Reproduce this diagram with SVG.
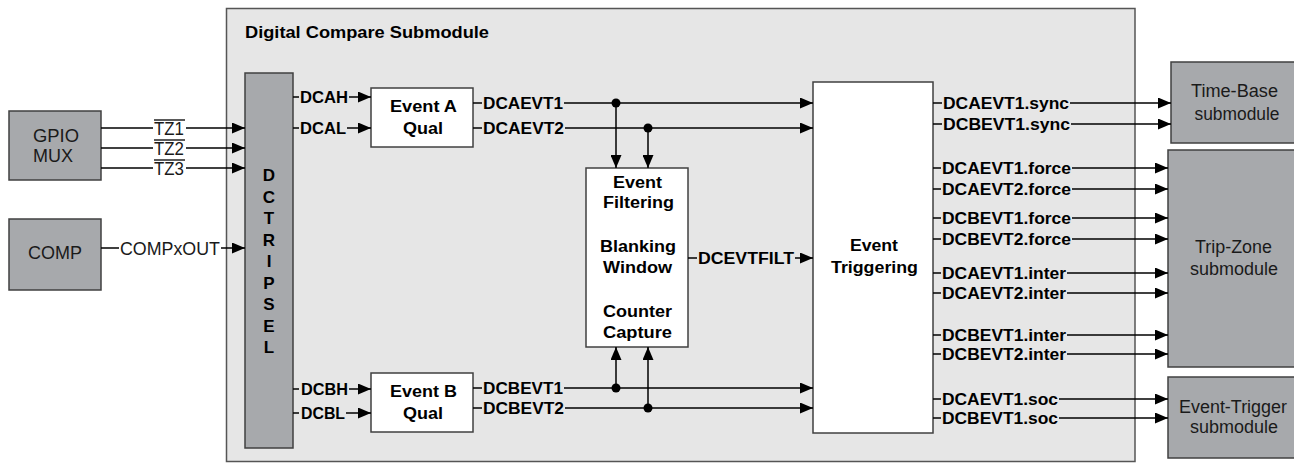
<svg xmlns="http://www.w3.org/2000/svg" width="1294" height="464" viewBox="0 0 1294 464">
<style>
.gbox{fill:#a7a9ac;stroke:#404040;stroke-width:1.5}
.wbox{fill:#ffffff;stroke:#404040;stroke-width:1.5}
.outer{fill:#e6e6e6;stroke:#555;stroke-width:1.5}
.ln{fill:none;stroke:#000;stroke-width:1.5}
.arr{marker-end:url(#ah)}
.b{font-family:"Liberation Sans",Arial,sans-serif;font-weight:bold;font-size:16px;fill:#000}
.q{font-size:17px}
.r{font-family:"Liberation Sans",Arial,sans-serif;font-size:17.5px;fill:#1a1a1a}
.c{text-anchor:middle}
.bgg{fill:#e6e6e6}
.bgw{fill:#ffffff}
.dot{fill:#000}
</style>
<defs>
<marker id="ah" markerUnits="userSpaceOnUse" markerWidth="13" markerHeight="11" refX="13" refY="5.5" orient="auto">
<path d="M0,0 L13,5.5 L0,11 z" fill="#000"/>
</marker>
</defs>

<g id="dc-submodule">
<rect class="outer" x="226.5" y="8.5" width="908.5" height="453"/>
<text class="b" x="245" y="38" textLength="244" lengthAdjust="spacingAndGlyphs">Digital Compare Submodule</text>
</g>

<g id="gpio-mux">
<rect class="gbox" x="9" y="111" width="92" height="69"/>
<text class="r c" x="56" y="142" textLength="46" lengthAdjust="spacingAndGlyphs">GPIO</text>
<text class="r c" x="53" y="162" textLength="40" lengthAdjust="spacingAndGlyphs">MUX</text>
</g>

<g id="comp">
<rect class="gbox" x="9" y="219" width="92" height="71"/>
<text class="r c" x="55" y="259" textLength="54" lengthAdjust="spacingAndGlyphs">COMP</text>
</g>

<g id="dctripsel">
<rect class="gbox" x="245" y="73" width="48" height="375"/>
<g class="b c" style="font-size:17px">
<text x="269" y="181">D</text>
<text x="269" y="202.5">C</text>
<text x="269" y="224">T</text>
<text x="269" y="245.5">R</text>
<text x="269" y="267">I</text>
<text x="269" y="288.5">P</text>
<text x="269" y="310">S</text>
<text x="269" y="331.5">E</text>
<text x="269" y="353">L</text>
</g>
</g>

<g id="event-a-qual">
<rect class="wbox" x="371" y="88" width="102" height="59"/>
<text class="b q c" x="423.5" y="112" textLength="67" lengthAdjust="spacingAndGlyphs">Event A</text>
<text class="b q c" x="423" y="133.5" textLength="40" lengthAdjust="spacingAndGlyphs">Qual</text>
</g>

<g id="event-b-qual">
<rect class="wbox" x="371" y="373" width="102" height="59"/>
<text class="b q c" x="423.5" y="397" textLength="67" lengthAdjust="spacingAndGlyphs">Event B</text>
<text class="b q c" x="423" y="419" textLength="40" lengthAdjust="spacingAndGlyphs">Qual</text>
</g>

<g id="event-filtering">
<rect class="wbox" x="586" y="168" width="102" height="179"/>
<text class="b c" x="637.5" y="188" textLength="49" lengthAdjust="spacingAndGlyphs">Event</text>
<text class="b c" x="638.5" y="208" textLength="71" lengthAdjust="spacingAndGlyphs">Filtering</text>
<text class="b c" x="638" y="252" textLength="76" lengthAdjust="spacingAndGlyphs">Blanking</text>
<text class="b c" x="637.5" y="273" textLength="69" lengthAdjust="spacingAndGlyphs">Window</text>
<text class="b c" x="637.5" y="317" textLength="69" lengthAdjust="spacingAndGlyphs">Counter</text>
<text class="b c" x="637.5" y="338" textLength="69" lengthAdjust="spacingAndGlyphs">Capture</text>
</g>

<g id="event-triggering">
<rect class="wbox" x="813" y="82" width="120" height="351"/>
<text class="b c" x="874" y="251" textLength="48" lengthAdjust="spacingAndGlyphs">Event</text>
<text class="b c" x="874.5" y="273" textLength="87" lengthAdjust="spacingAndGlyphs">Triggering</text>
</g>

<g id="time-base">
<rect class="gbox" x="1171" y="62" width="130" height="81"/>
<text class="r c" x="1234.5" y="97" textLength="87" lengthAdjust="spacingAndGlyphs">Time-Base</text>
<text class="r c" x="1237" y="120" textLength="85" lengthAdjust="spacingAndGlyphs">submodule</text>
</g>

<g id="trip-zone">
<rect class="gbox" x="1168" y="150" width="133" height="217"/>
<text class="r c" x="1233.5" y="253" textLength="77" lengthAdjust="spacingAndGlyphs">Trip-Zone</text>
<text class="r c" x="1234" y="275" textLength="88" lengthAdjust="spacingAndGlyphs">submodule</text>
</g>

<g id="event-trigger">
<rect class="gbox" x="1168" y="377" width="133" height="81"/>
<text class="r c" x="1233" y="413" textLength="108" lengthAdjust="spacingAndGlyphs">Event-Trigger</text>
<text class="r c" x="1234" y="433" textLength="88" lengthAdjust="spacingAndGlyphs">submodule</text>
</g>

<g id="connectors">
<!-- inputs -->
<line class="ln arr" x1="101" y1="128" x2="245" y2="128"/>
<line class="ln arr" x1="101" y1="148" x2="245" y2="148"/>
<line class="ln arr" x1="101" y1="168" x2="245" y2="168"/>
<line class="ln arr" x1="101" y1="248" x2="245" y2="248"/>
<rect class="bgw" x="153" y="120" width="33" height="15"/>
<rect class="bgw" x="153" y="140" width="33" height="15"/>
<rect class="bgw" x="153" y="160" width="33" height="15"/>
<rect class="bgw" x="119" y="240" width="102" height="16"/>
<text class="r" x="154" y="134.5" textLength="30" lengthAdjust="spacingAndGlyphs">TZ1</text>
<text class="r" x="154" y="154.5" textLength="30" lengthAdjust="spacingAndGlyphs">TZ2</text>
<text class="r" x="154" y="174.5" textLength="30" lengthAdjust="spacingAndGlyphs">TZ3</text>
<line class="ln" x1="154" y1="120" x2="185" y2="120" style="stroke-width:1.3"/>
<line class="ln" x1="154" y1="140" x2="185" y2="140" style="stroke-width:1.3"/>
<line class="ln" x1="154" y1="160" x2="185" y2="160" style="stroke-width:1.3"/>
<text class="r" x="120" y="254.5" textLength="100" lengthAdjust="spacingAndGlyphs">COMPxOUT</text>

<!-- DCTRIPSEL to qual -->
<line class="ln arr" x1="293" y1="97" x2="371" y2="97"/>
<line class="ln arr" x1="293" y1="128" x2="371" y2="128"/>
<line class="ln arr" x1="293" y1="389" x2="371" y2="389"/>
<line class="ln arr" x1="293" y1="413" x2="371" y2="413"/>
<rect class="bgg" x="299" y="89" width="50" height="16"/>
<rect class="bgg" x="299" y="120" width="48" height="16"/>
<rect class="bgg" x="299" y="381" width="50" height="16"/>
<rect class="bgg" x="299" y="405" width="47" height="16"/>
<text class="b" x="300" y="102.5" textLength="48" lengthAdjust="spacingAndGlyphs">DCAH</text>
<text class="b" x="300" y="133.5" textLength="46" lengthAdjust="spacingAndGlyphs">DCAL</text>
<text class="b" x="301" y="394.5" textLength="47" lengthAdjust="spacingAndGlyphs">DCBH</text>
<text class="b" x="301" y="418.5" textLength="44" lengthAdjust="spacingAndGlyphs">DCBL</text>

<!-- qual outputs -->
<line class="ln arr" x1="473" y1="103" x2="813" y2="103"/>
<line class="ln arr" x1="473" y1="128" x2="813" y2="128"/>
<line class="ln arr" x1="473" y1="388" x2="813" y2="388"/>
<line class="ln arr" x1="473" y1="408" x2="813" y2="408"/>
<rect class="bgg" x="482" y="95" width="82" height="16"/>
<rect class="bgg" x="482" y="120" width="83" height="16"/>
<rect class="bgg" x="482" y="380" width="82" height="16"/>
<rect class="bgg" x="482" y="400" width="83" height="16"/>
<text class="b" x="483" y="108.5" textLength="80" lengthAdjust="spacingAndGlyphs">DCAEVT1</text>
<text class="b" x="483" y="133.5" textLength="81" lengthAdjust="spacingAndGlyphs">DCAEVT2</text>
<text class="b" x="483" y="393.5" textLength="80" lengthAdjust="spacingAndGlyphs">DCBEVT1</text>
<text class="b" x="483" y="413.5" textLength="81" lengthAdjust="spacingAndGlyphs">DCBEVT2</text>

<line class="ln arr" x1="616" y1="103" x2="616" y2="168"/>
<line class="ln arr" x1="648" y1="128" x2="648" y2="168"/>
<line class="ln arr" x1="616" y1="388" x2="616" y2="347"/>
<line class="ln arr" x1="648" y1="408" x2="648" y2="347"/>
<circle class="dot" cx="616" cy="103" r="4.5"/>
<circle class="dot" cx="648" cy="128" r="4.5"/>
<circle class="dot" cx="616" cy="388" r="4.5"/>
<circle class="dot" cx="648" cy="408" r="4.5"/>

<!-- filter output -->
<line class="ln arr" x1="688" y1="258" x2="813" y2="258"/>
<rect class="bgg" x="697" y="250" width="98" height="16"/>
<text class="b" x="698" y="263.5" textLength="96" lengthAdjust="spacingAndGlyphs">DCEVTFILT</text>

<!-- triggering outputs -->
<line class="ln arr" x1="933" y1="103" x2="1171" y2="103"/>
<line class="ln arr" x1="933" y1="124" x2="1171" y2="124"/>
<line class="ln arr" x1="933" y1="168" x2="1168" y2="168"/>
<line class="ln arr" x1="933" y1="189" x2="1168" y2="189"/>
<line class="ln arr" x1="933" y1="218" x2="1168" y2="218"/>
<line class="ln arr" x1="933" y1="239" x2="1168" y2="239"/>
<line class="ln arr" x1="933" y1="273" x2="1168" y2="273"/>
<line class="ln arr" x1="933" y1="293" x2="1168" y2="293"/>
<line class="ln arr" x1="933" y1="335" x2="1168" y2="335"/>
<line class="ln arr" x1="933" y1="354" x2="1168" y2="354"/>
<line class="ln arr" x1="933" y1="399" x2="1168" y2="399"/>
<line class="ln arr" x1="933" y1="418" x2="1168" y2="418"/>
<rect class="bgg" x="942" y="95" width="128" height="16"/>
<rect class="bgg" x="942" y="116" width="129" height="16"/>
<rect class="bgg" x="941" y="160" width="131" height="16"/>
<rect class="bgg" x="941" y="181" width="131" height="16"/>
<rect class="bgg" x="941" y="210" width="131" height="16"/>
<rect class="bgg" x="941" y="231" width="131" height="16"/>
<rect class="bgg" x="941" y="265" width="126" height="16"/>
<rect class="bgg" x="941" y="285" width="126" height="16"/>
<rect class="bgg" x="941" y="327" width="126" height="16"/>
<rect class="bgg" x="941" y="346" width="126" height="16"/>
<rect class="bgg" x="941" y="391" width="118" height="16"/>
<rect class="bgg" x="941" y="410" width="118" height="16"/>
<text class="b" x="943" y="108.5" textLength="126" lengthAdjust="spacingAndGlyphs">DCAEVT1.sync</text>
<text class="b" x="943" y="129.5" textLength="127" lengthAdjust="spacingAndGlyphs">DCBEVT1.sync</text>
<text class="b" x="942" y="173.5" textLength="129" lengthAdjust="spacingAndGlyphs">DCAEVT1.force</text>
<text class="b" x="942" y="194.5" textLength="129" lengthAdjust="spacingAndGlyphs">DCAEVT2.force</text>
<text class="b" x="942" y="223.5" textLength="129" lengthAdjust="spacingAndGlyphs">DCBEVT1.force</text>
<text class="b" x="942" y="244.5" textLength="129" lengthAdjust="spacingAndGlyphs">DCBEVT2.force</text>
<text class="b" x="942" y="278.5" textLength="124" lengthAdjust="spacingAndGlyphs">DCAEVT1.inter</text>
<text class="b" x="942" y="298.5" textLength="124" lengthAdjust="spacingAndGlyphs">DCAEVT2.inter</text>
<text class="b" x="942" y="340.5" textLength="124" lengthAdjust="spacingAndGlyphs">DCBEVT1.inter</text>
<text class="b" x="942" y="359.5" textLength="124" lengthAdjust="spacingAndGlyphs">DCBEVT2.inter</text>
<text class="b" x="942" y="404.5" textLength="116" lengthAdjust="spacingAndGlyphs">DCAEVT1.soc</text>
<text class="b" x="942" y="423.5" textLength="116" lengthAdjust="spacingAndGlyphs">DCBEVT1.soc</text>
</g>
</svg>
